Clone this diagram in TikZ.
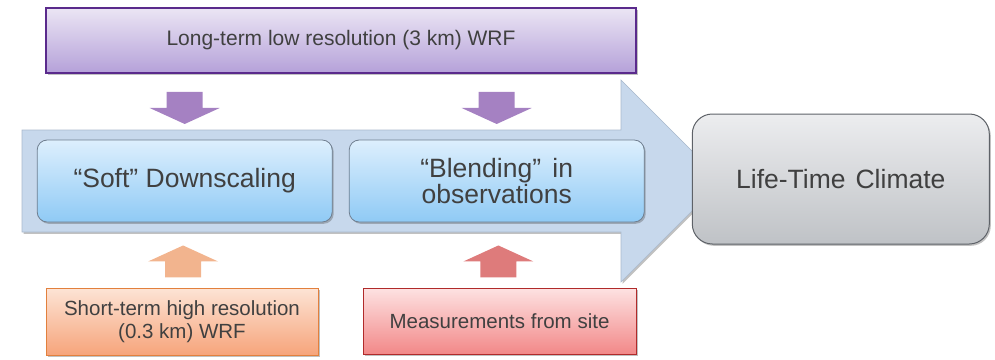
\documentclass[tikz,border=0pt]{standalone}
\usepackage{fontspec}
\setmainfont{Liberation Sans}
\usetikzlibrary{shadows,calc}

\definecolor{txt}{HTML}{404040}
\definecolor{flowfill}{HTML}{C7D8EC}
\definecolor{flowedge}{HTML}{A9B9CD}
\definecolor{lavtop}{HTML}{EBE5F4}
\definecolor{lavbot}{HTML}{B5A1D9}
\definecolor{lavedge}{HTML}{5A2A8C}
\definecolor{lavarrow}{HTML}{A581C2}
\definecolor{skytop}{HTML}{DDEFFD}
\definecolor{skybot}{HTML}{8FCAF5}
\definecolor{skyedge}{HTML}{6F7E8F}
\definecolor{greytop}{HTML}{ECEDEF}
\definecolor{greybot}{HTML}{BFC2C6}
\definecolor{greyedge}{HTML}{5E6268}
\definecolor{peachtop}{HTML}{FDE4D5}
\definecolor{peachbot}{HTML}{F6A47B}
\definecolor{peachedge}{HTML}{E2803D}
\definecolor{peacharrow}{HTML}{F2B48E}
\definecolor{rosetop}{HTML}{FDE2E2}
\definecolor{rosebot}{HTML}{F28888}
\definecolor{roseedge}{HTML}{B02A2A}
\definecolor{rosearrow}{HTML}{DE7B7B}

\tikzset{
  softshadow/.style={drop shadow={shadow xshift=1.5pt,shadow yshift=-1.8pt,opacity=0.35,fill=black!70}},
  boxbase/.style={inner sep=0pt,align=center,text=txt,softshadow},
  inputbox/.style={boxbase,font=\fontsize{21}{24}\selectfont},
  lowbox/.style={boxbase,font=\fontsize{20.5}{23.5}\selectfont},
  stagebox/.style={boxbase,rounded corners=10pt,draw=skyedge,line width=0.8pt,
    top color=skytop,bottom color=skybot,minimum width=295pt,minimum height=82pt,
    font=\fontsize{26.5}{26}\selectfont},
  blockup/.pic={
    \fill (-18,16) -- (-18,0) -- (-35,0) -- (0,-16) -- (35,0) -- (18,0) -- (18,16) -- cycle;
  }
}

\begin{document}
\begin{tikzpicture}[x=1pt,y=-1pt]
\useasboundingbox (0,0) rectangle (995,359);

% broad process arrow in the background
\path[fill=flowfill,draw=flowedge,line width=0.6pt,softshadow]
  (22,130) -- (621,130) -- (621,80) -- (722,181) -- (621,282) -- (621,232) -- (22,232) -- cycle;

% model input on top
\node[inputbox,draw=lavedge,line width=1.5pt,top color=lavtop,bottom color=lavbot,
      minimum width=590pt,minimum height=65pt] (lt) at (341,40.5)
  {Long-term low resolution (3 km) WRF};

% processing stages
\node[stagebox] (soft) at (184.7,181) {“Soft” Downscaling};
\node[stagebox] (blend) at (496.7,181) {“Blending”\hspace{0.15em} in\\observations};

% result
\node[boxbase,rounded corners=20pt,draw=greyedge,line width=1pt,
      top color=greytop,bottom color=greybot,minimum width=297pt,minimum height=130pt,
      font=\fontsize{26.5}{30}\selectfont] (life) at (840.8,179)
  {Life-Time\hspace{0.1em} Climate};

% inputs at the bottom
\node[lowbox,draw=peachedge,line width=1pt,top color=peachtop,bottom color=peachbot,
      minimum width=272pt,minimum height=67pt] (short) at (182,321.5)
  {Short-term high resolution\\(0.3 km) WRF};
\node[lowbox,draw=roseedge,line width=1pt,top color=rosetop,bottom color=rosebot,
      minimum width=273pt,minimum height=66pt] (meas) at (499.5,321)
  {Measurements from site};

% block arrows feeding the stages
\coordinate (pa) at ($(lt.south -| soft.north)!0.52!(soft.north)$);
\coordinate (pb) at ($(lt.south -| blend.north)!0.52!(blend.north)$);
\coordinate (oa) at ($(soft.south)!0.6!(short.north)$);
\coordinate (ra) at ($(blend.south)!0.6!(meas.north)$);
\pic[fill=lavarrow,rotate=180] at (pa) {blockup};
\pic[fill=lavarrow,rotate=180] at (pb) {blockup};
\pic[fill=peacharrow] at (oa) {blockup};
\pic[fill=rosearrow] at (ra) {blockup};
\end{tikzpicture}
\end{document}
